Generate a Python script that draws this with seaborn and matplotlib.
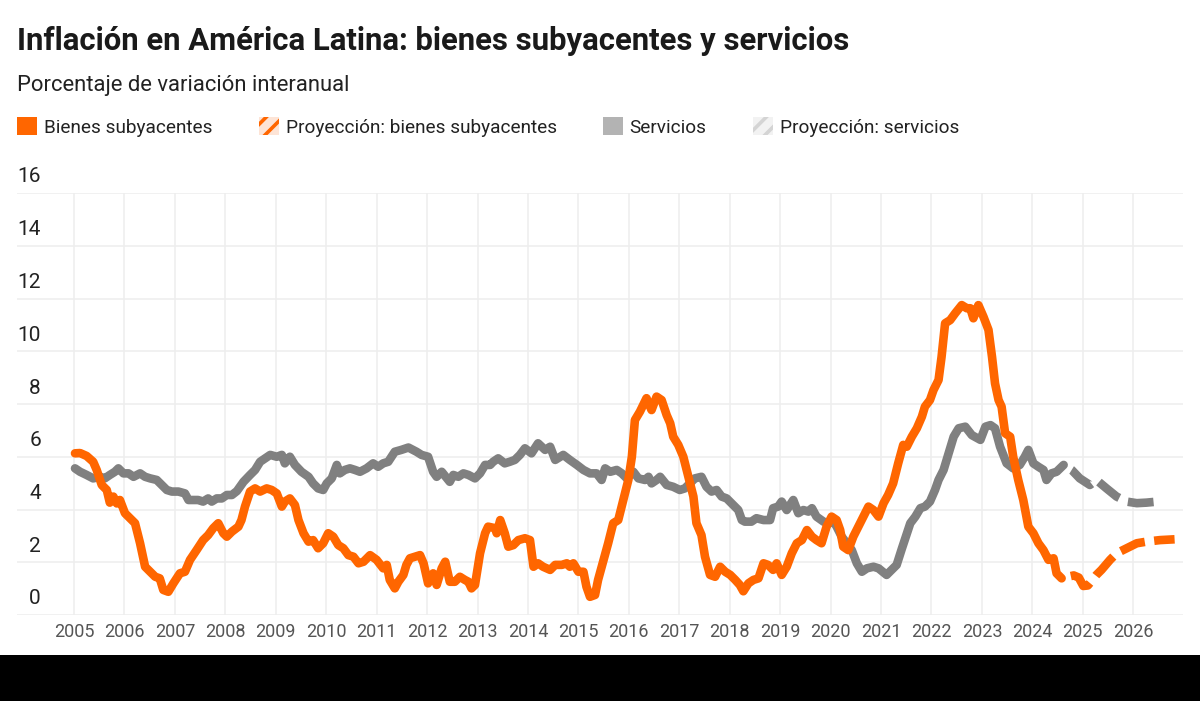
import numpy as np
import pandas as pd
import matplotlib
matplotlib.use("Agg")
import matplotlib.pyplot as plt
from matplotlib.patches import Patch, Rectangle
from matplotlib import transforms
import seaborn as sns

# ---------------- data ----------------
title = "Inflación en América Latina: bienes subyacentes y servicios"
subtitle = "Porcentaje de variación interanual"
legend_labels = ["Bienes subyacentes", "Proyección: bienes subyacentes",
                 "Servicios", "Proyección: servicios"]
x_ticks = list(range(2005, 2027))
y_ticks = [0, 2, 4, 6, 8, 10, 12, 14, 16]

bienes_t = [2005.02, 2005.12, 2005.25, 2005.38, 2005.45, 2005.55, 2005.65, 2005.71, 2005.78, 2005.85,
            2005.91, 2006.01, 2006.11, 2006.21, 2006.31, 2006.41, 2006.51, 2006.61, 2006.70, 2006.77,
            2006.87, 2006.97, 2007.10, 2007.20, 2007.30, 2007.43, 2007.56, 2007.66, 2007.76, 2007.86,
            2007.96, 2008.03, 2008.13, 2008.26, 2008.32, 2008.39, 2008.49, 2008.59, 2008.69, 2008.82,
            2008.92, 2009.02, 2009.12, 2009.18, 2009.28, 2009.38, 2009.45, 2009.55, 2009.65, 2009.74,
            2009.84, 2009.94, 2010.04, 2010.14, 2010.24, 2010.34, 2010.44, 2010.54, 2010.64, 2010.74,
            2010.87, 2011.00, 2011.13, 2011.20, 2011.26, 2011.36, 2011.43, 2011.53, 2011.59, 2011.66,
            2011.76, 2011.86, 2011.93, 2012.02, 2012.12, 2012.19, 2012.29, 2012.36, 2012.45, 2012.55,
            2012.65, 2012.75, 2012.82, 2012.88, 2012.95, 2013.05, 2013.15, 2013.21, 2013.35, 2013.38,
            2013.45, 2013.54, 2013.61, 2013.71, 2013.81, 2013.94, 2014.04, 2014.11, 2014.20, 2014.30,
            2014.44, 2014.54, 2014.67, 2014.77, 2014.83, 2014.90, 2015.00, 2015.10, 2015.16, 2015.23,
            2015.33, 2015.39, 2015.49, 2015.59, 2015.69, 2015.79, 2015.89, 2015.99, 2016.06, 2016.12,
            2016.22, 2016.35, 2016.45, 2016.55, 2016.65, 2016.75, 2016.82, 2016.88, 2016.98, 2017.08,
            2017.18, 2017.28, 2017.34, 2017.44, 2017.51, 2017.61, 2017.71, 2017.81, 2017.91, 2018.01,
            2018.11, 2018.20, 2018.27, 2018.37, 2018.47, 2018.57, 2018.67, 2018.76, 2018.86, 2018.93,
            2019.03, 2019.13, 2019.23, 2019.33, 2019.43, 2019.53, 2019.63, 2019.72, 2019.82, 2019.92,
            2020.02, 2020.12, 2020.19, 2020.25, 2020.35, 2020.45, 2020.55, 2020.65, 2020.75, 2020.85,
            2020.95, 2021.05, 2021.14, 2021.24, 2021.34, 2021.44, 2021.51, 2021.61, 2021.71, 2021.81,
            2021.87, 2021.97, 2022.04, 2022.14, 2022.20, 2022.27, 2022.37, 2022.47, 2022.60, 2022.70,
            2022.77, 2022.83, 2022.93, 2023.03, 2023.13, 2023.20, 2023.26, 2023.33, 2023.39, 2023.46,
            2023.56, 2023.62, 2023.72, 2023.82, 2023.92, 2024.02, 2024.12, 2024.22, 2024.32, 2024.42,
            2024.48, 2024.58]
bienes_v = [6.13, 6.14, 6.03, 5.81, 5.50, 4.93, 4.74, 4.26, 4.49, 4.23,
            4.36, 3.86, 3.67, 3.48, 2.72, 1.83, 1.64, 1.45, 1.39, 0.95,
            0.88, 1.20, 1.58, 1.64, 2.09, 2.46, 2.84, 3.03, 3.29, 3.48,
            3.10, 2.97, 3.16, 3.35, 3.60, 4.11, 4.68, 4.80, 4.68, 4.80,
            4.74, 4.61, 4.11, 4.30, 4.42, 4.17, 3.60, 3.10, 2.78, 2.84,
            2.53, 2.72, 3.10, 2.97, 2.65, 2.53, 2.27, 2.21, 1.96, 2.02,
            2.27, 2.09, 1.77, 1.90, 1.33, 1.01, 1.26, 1.52, 1.90, 2.15,
            2.21, 2.27, 1.96, 1.20, 1.58, 1.14, 1.77, 2.02, 1.26, 1.26,
            1.45, 1.33, 1.26, 1.01, 1.14, 2.34, 3.10, 3.35, 3.29, 3.10,
            3.60, 3.10, 2.59, 2.65, 2.84, 2.91, 2.84, 1.83, 1.96, 1.83,
            1.71, 1.90, 1.90, 1.96, 1.83, 1.96, 1.64, 1.64, 1.07, 0.69,
            0.76, 1.33, 2.02, 2.72, 3.48, 3.60, 4.36, 5.12, 6.00, 7.39,
            7.71, 8.22, 7.77, 8.28, 8.15, 7.58, 7.27, 6.76, 6.45, 6.00,
            5.24, 4.49, 3.48, 3.03, 2.21, 1.52, 1.45, 1.83, 1.64, 1.52,
            1.33, 1.14, 0.90, 1.20, 1.33, 1.39, 1.96, 1.90, 1.71, 1.96,
            1.52, 1.83, 2.34, 2.72, 2.84, 3.22, 2.97, 2.84, 2.72, 3.35,
            3.73, 3.60, 3.22, 2.59, 2.46, 2.97, 3.35, 3.73, 4.11, 3.98,
            3.73, 4.24, 4.55, 4.99, 5.75, 6.45, 6.38, 6.76, 7.08, 7.52,
            7.90, 8.15, 8.53, 8.91, 9.79, 11.06, 11.18, 11.44, 11.75, 11.63,
            11.63, 11.25, 11.75, 11.31, 10.81, 9.79, 8.78, 8.15, 7.90, 6.89,
            6.76, 6.00, 5.12, 4.36, 3.35, 3.10, 2.72, 2.46, 2.09, 2.15,
            1.58, 1.39]

bienes_proj_t = [2024.58, 2024.70, 2024.82, 2024.92, 2025.01, 2025.10, 2025.20, 2025.27, 2025.37,
                 2025.54, 2025.67, 2025.87, 2026.07, 2026.26, 2026.53, 2026.82]
bienes_proj_v = [1.39, 1.45, 1.50, 1.42, 1.10, 1.12, 1.35, 1.52, 1.71,
                 2.09, 2.34, 2.53, 2.72, 2.78, 2.84, 2.87]

serv_t = [2005.02, 2005.12, 2005.25, 2005.38, 2005.52, 2005.61, 2005.71, 2005.81, 2005.88, 2005.98,
          2006.08, 2006.18, 2006.31, 2006.41, 2006.51, 2006.64, 2006.74, 2006.84, 2006.94, 2007.07,
          2007.20, 2007.27, 2007.37, 2007.46, 2007.56, 2007.66, 2007.73, 2007.83, 2007.93, 2008.03,
          2008.13, 2008.23, 2008.36, 2008.49, 2008.59, 2008.69, 2008.79, 2008.89, 2009.02, 2009.12,
          2009.18, 2009.28, 2009.38, 2009.51, 2009.65, 2009.74, 2009.84, 2009.94, 2010.01, 2010.11,
          2010.21, 2010.27, 2010.37, 2010.47, 2010.57, 2010.67, 2010.80, 2010.93, 2011.03, 2011.13,
          2011.23, 2011.36, 2011.49, 2011.63, 2011.79, 2011.89, 2012.02, 2012.12, 2012.19, 2012.29,
          2012.45, 2012.52, 2012.62, 2012.72, 2012.82, 2012.95, 2013.05, 2013.15, 2013.25, 2013.31,
          2013.41, 2013.54, 2013.64, 2013.74, 2013.84, 2013.94, 2014.07, 2014.20, 2014.34, 2014.44,
          2014.54, 2014.70, 2014.83, 2014.97, 2015.10, 2015.23, 2015.36, 2015.46, 2015.53, 2015.63,
          2015.76, 2015.86, 2015.96, 2016.09, 2016.19, 2016.32, 2016.39, 2016.45, 2016.55, 2016.62,
          2016.75, 2016.88, 2017.01, 2017.11, 2017.21, 2017.31, 2017.44, 2017.54, 2017.64, 2017.74,
          2017.84, 2017.94, 2018.07, 2018.17, 2018.24, 2018.30, 2018.43, 2018.53, 2018.67, 2018.80,
          2018.86, 2018.96, 2019.03, 2019.13, 2019.26, 2019.36, 2019.46, 2019.56, 2019.63, 2019.72,
          2019.86, 2019.96, 2020.06, 2020.12, 2020.22, 2020.32, 2020.42, 2020.52, 2020.62, 2020.72,
          2020.85, 2020.95, 2021.11, 2021.21, 2021.31, 2021.41, 2021.48, 2021.58, 2021.68, 2021.78,
          2021.87, 2021.97, 2022.07, 2022.14, 2022.24, 2022.34, 2022.44, 2022.54, 2022.67, 2022.80,
          2022.97, 2023.07, 2023.17, 2023.26, 2023.36, 2023.49, 2023.62, 2023.75, 2023.85, 2023.92,
          2024.02, 2024.12, 2024.22, 2024.28, 2024.38, 2024.48, 2024.62]
serv_v = [5.56, 5.43, 5.31, 5.18, 5.24, 5.18, 5.31, 5.43, 5.56, 5.37,
          5.37, 5.24, 5.37, 5.24, 5.18, 5.12, 4.93, 4.74, 4.68, 4.68,
          4.61, 4.36, 4.36, 4.36, 4.30, 4.42, 4.30, 4.42, 4.42, 4.55,
          4.55, 4.70, 5.05, 5.31, 5.50, 5.81, 5.94, 6.07, 6.00, 6.07,
          5.75, 6.00, 5.69, 5.43, 5.24, 4.99, 4.80, 4.74, 4.99, 5.18,
          5.69, 5.37, 5.50, 5.56, 5.50, 5.43, 5.56, 5.75, 5.62, 5.75,
          5.81, 6.19, 6.26, 6.35, 6.19, 6.07, 6.00, 5.43, 5.24, 5.43,
          5.05, 5.31, 5.24, 5.37, 5.31, 5.18, 5.37, 5.69, 5.69, 5.81,
          5.94, 5.75, 5.81, 5.88, 6.07, 6.32, 6.13, 6.51, 6.26, 6.38,
          5.88, 6.07, 5.88, 5.69, 5.50, 5.37, 5.37, 5.12, 5.56, 5.43,
          5.50, 5.37, 5.18, 5.43, 5.18, 5.12, 5.24, 4.99, 5.12, 5.24,
          4.93, 4.86, 4.74, 4.80, 4.99, 5.18, 5.24, 4.86, 4.68, 4.74,
          4.49, 4.42, 4.17, 3.98, 3.60, 3.54, 3.54, 3.67, 3.60, 3.60,
          4.05, 4.11, 4.30, 3.98, 4.36, 3.86, 3.98, 3.92, 4.05, 3.73,
          3.54, 3.48, 3.54, 3.35, 2.97, 2.72, 2.46, 1.96, 1.64, 1.77,
          1.83, 1.77, 1.52, 1.71, 1.90, 2.50, 2.90, 3.48, 3.73, 4.05,
          4.11, 4.30, 4.74, 5.12, 5.50, 6.13, 6.76, 7.08, 7.14, 6.82,
          6.64, 7.14, 7.20, 7.08, 6.38, 5.75, 5.56, 5.69, 6.00, 6.26,
          5.75, 5.62, 5.50, 5.12, 5.37, 5.43, 5.69]

serv_proj_t = [2024.62, 2024.78, 2024.94, 2025.14, 2025.27, 2025.47, 2025.67, 2025.87, 2026.07,
               2026.26, 2026.48]
serv_proj_v = [5.69, 5.50, 5.18, 4.93, 5.12, 4.80, 4.49, 4.30, 4.24, 4.26, 4.30]

# ---------------- style ----------------
ORANGE = "#ff6600"
GRAY = "#808080"
GRAY_LEG = "#b3b3b3"
GRID = "#eeeeee"

sns.set_theme(style="white")
plt.rcParams["font.family"] = ["Roboto", "DejaVu Sans"]
plt.rcParams["hatch.linewidth"] = 2.6

W, H = 1200, 701
fig = plt.figure(figsize=(W / 100, H / 100), dpi=100)
fig.patch.set_facecolor("white")

# plot area in pixels: x 17..1183, y 193..615
px_per_year = 50.44
x0_px, x1_px = 17, 1183
xlim = (2005 - (74 - x0_px) / px_per_year, 2005 + (x1_px - 74) / px_per_year)
ax = fig.add_axes([x0_px / W, (H - 615) / H, (x1_px - x0_px) / W, (615 - 193) / H])
ax.set_xlim(*xlim)
ax.set_ylim(0, 16)
for s in ax.spines.values():
    s.set_visible(False)

# grid
for yv in y_ticks:
    ax.axhline(yv, color=GRID, lw=1.1, zorder=0)
for xv in x_ticks:
    ax.axvline(xv, color=GRID, lw=1.1, zorder=0)

df_b = pd.DataFrame({"year": bienes_t, "value": bienes_v})
df_bp = pd.DataFrame({"year": bienes_proj_t, "value": bienes_proj_v})
df_s = pd.DataFrame({"year": serv_t, "value": serv_v})
df_sp = pd.DataFrame({"year": serv_proj_t, "value": serv_proj_v})

LW = 6.2
dash = (3.0, (3.0, 1.1))
sns.lineplot(data=df_s, x="year", y="value", ax=ax, color=GRAY, lw=LW, estimator=None,
             solid_capstyle="round", solid_joinstyle="round", zorder=2, clip_on=False)
sns.lineplot(data=df_sp, x="year", y="value", ax=ax, color=GRAY, lw=LW, estimator=None,
             linestyle=dash, dash_capstyle="butt", zorder=2, clip_on=False)
sns.lineplot(data=df_b, x="year", y="value", ax=ax, color=ORANGE, lw=LW, estimator=None,
             solid_capstyle="round", solid_joinstyle="round", zorder=3, clip_on=False)
sns.lineplot(data=df_bp, x="year", y="value", ax=ax, color=ORANGE, lw=LW, estimator=None,
             linestyle=dash, dash_capstyle="butt", zorder=3, clip_on=False)

# x tick labels
ax.set_xticks(x_ticks)
ax.set_xticklabels([str(y) for y in x_ticks])
ax.tick_params(axis="x", length=0, pad=6, labelsize=13, labelcolor="#555555")
ax.set_yticks([])
ax.set_xlabel("")
ax.set_ylabel("")

# y labels above gridlines, right-aligned
ylab_tr = transforms.blended_transform_factory(fig.transFigure, ax.transData)
ylab_tr = transforms.offset_copy(ylab_tr, fig=fig, y=16, units="dots")
for yv in y_ticks:
    ax.text(41 / W, yv, str(yv), transform=ylab_tr, ha="right", va="center",
            fontsize=15, color="#222222")

# title / subtitle
fig.text(17 / W, 1 - 41 / H, title, fontsize=22.4, fontweight="bold", color="#1a1a1a",
         va="center", ha="left")
fig.text(17 / W, 1 - 85 / H, subtitle, fontsize=15.8, color="#222222", va="center", ha="left")

# legend
handles = [
    Patch(facecolor=ORANGE, edgecolor="none", lw=0),
    Patch(facecolor="#fde4d6", edgecolor=ORANGE, hatch="//", lw=0),
    Patch(facecolor=GRAY_LEG, edgecolor="none", lw=0),
    Patch(facecolor="#f2f2f2", edgecolor="#d4d4d4", hatch="//", lw=0),
]
fs_leg = 13.7
em = fs_leg * 100 / 72
leg = fig.legend(handles, legend_labels, loc="center left",
                 bbox_to_anchor=(17 / W, 1 - 127 / H), ncol=4, frameon=False,
                 fontsize=fs_leg, handlelength=20 / em, handleheight=20 / em,
                 handletextpad=7 / em, columnspacing=46 / em, borderpad=0, borderaxespad=0)
for t in leg.get_texts():
    t.set_color("#222222")

# black band at bottom
fig.patches.append(Rectangle((0, 0), 1, 46 / H, transform=fig.transFigure,
                             facecolor="black", edgecolor="none", zorder=10))

fig.savefig("out.png", dpi=100, facecolor="white")
